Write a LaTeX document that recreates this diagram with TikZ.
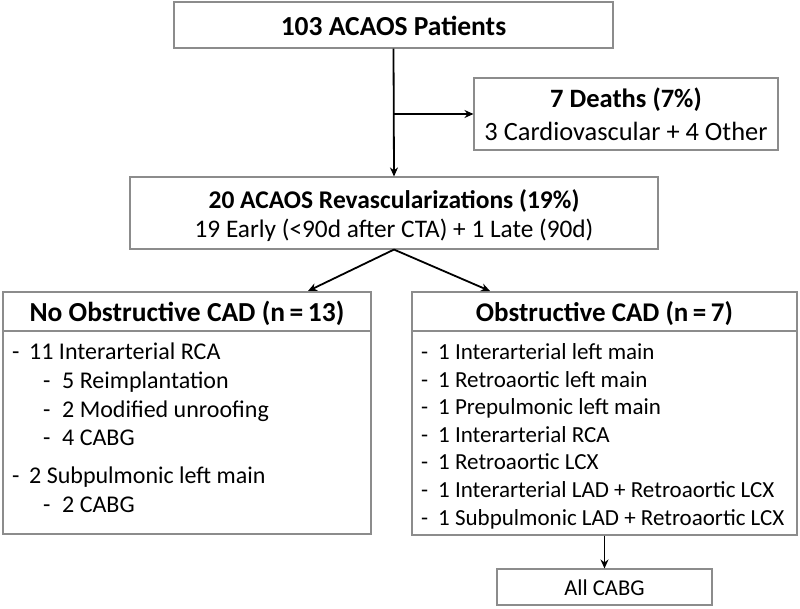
\documentclass[tikz,border=0pt]{standalone}
\usepackage{fontspec}
\setmainfont{Carlito}
\usetikzlibrary{arrows.meta}
\newcommand{\fs}[1]{\fontsize{#1}{#1}\selectfont}
\begin{document}
\begin{tikzpicture}[x=1pt,y=-1pt,
  box/.style={draw=black!45,line width=1.1pt,rectangle,inner sep=0pt,fill=white},
  conn/.style={line width=1.8pt,-{Stealth[length=9pt,width=8pt]}},
  bt/.style={anchor=base,inner sep=0pt,font=\bfseries},
  rt/.style={anchor=base,inner sep=0pt},
  lt/.style={anchor=base west,inner sep=0pt}]
\useasboundingbox (0,0) rectangle (800,608);
% boxes
\node[box,minimum width=439pt,minimum height=46pt] (top) at (393.5,25) {};
\node[box,minimum width=304pt,minimum height=72pt] (deaths) at (626,114) {};
\node[box,minimum width=528pt,minimum height=72pt] (rev) at (394,213) {};
\node[box,minimum width=368pt,minimum height=242pt] (left) at (187,413) {};
\node[box,minimum width=385pt,minimum height=243pt] (right) at (604.5,413.5) {};
\node[box,minimum width=215pt,minimum height=36pt] (cabg) at (604.5,587) {};
\draw[draw=black!45,line width=1.1pt] (left.west |- 0,331) -- (left.east |- 0,331);
\draw[draw=black!45,line width=1.1pt] (right.west |- 0,331) -- (right.east |- 0,331);
% texts
\node[bt] (t1) at (393.5,35) {\fs{27.5}103 ACAOS Patients};
\node[bt] (t2) at (626,107) {\fs{26.5}7 Deaths (7\%)};
\node[rt] (t3) at (626,140) {\fs{26.4}3 Cardiovascular + 4 Other};
\node[bt] (t4) at (394,208) {\fs{25.5}20 ACAOS Revascularizations (19\%)};
\node[rt] (t5) at (394,237) {\fs{25.3}19 Early (<90d after CTA) + 1 Late (90d)};
\node[bt] (t6) at (187,321) {\fs{27.5}No Obstructive CAD (n\,=\,13)};
\node[bt] (t7) at (604.5,321) {\fs{27}Obstructive CAD (n\,=\,7)};
\node[rt] (t8) at (604.5,595) {\fs{22.6}All CABG};
% left list
\foreach \y/\d/\t/\n in {359/12/29/11 Interarterial RCA,388/43/62/5 Reimplantation,417/43/62/2 Modified unroofing,445/43/62/4 CABG,483/12/29/2 Subpulmonic left main,512/43/62/2 CABG}{
  \node[lt] at (\d,\y) {\fs{24}-};
  \node[lt] at (\t,\y) {\fs{24}\n};
}
% right list
\foreach \y/\n in {359/1 Interarterial left main,387/1 Retroaortic left main,414/1 Prepulmonic left main,442/1 Interarterial RCA,469/1 Retroaortic LCX,497/1 Interarterial LAD + Retroaortic LCX,525/1 Subpulmonic LAD + Retroaortic LCX}{
  \node[lt] at (421,\y) {\fs{23}-};
  \node[lt] at (438,\y) {\fs{23}\n};
}
% connectors
\coordinate (j) at (394,114);
\coordinate (la) at (308,291);
\coordinate (ra) at (490,291);
\draw[conn] (top.south) -- (rev.north);
\draw[conn] (j) -- (deaths.west);
\draw[conn] (rev.south) -- (la);
\draw[conn] (rev.south) -- (ra);
\draw[conn] (right.south) -- (cabg.north);
\end{tikzpicture}
\end{document}
